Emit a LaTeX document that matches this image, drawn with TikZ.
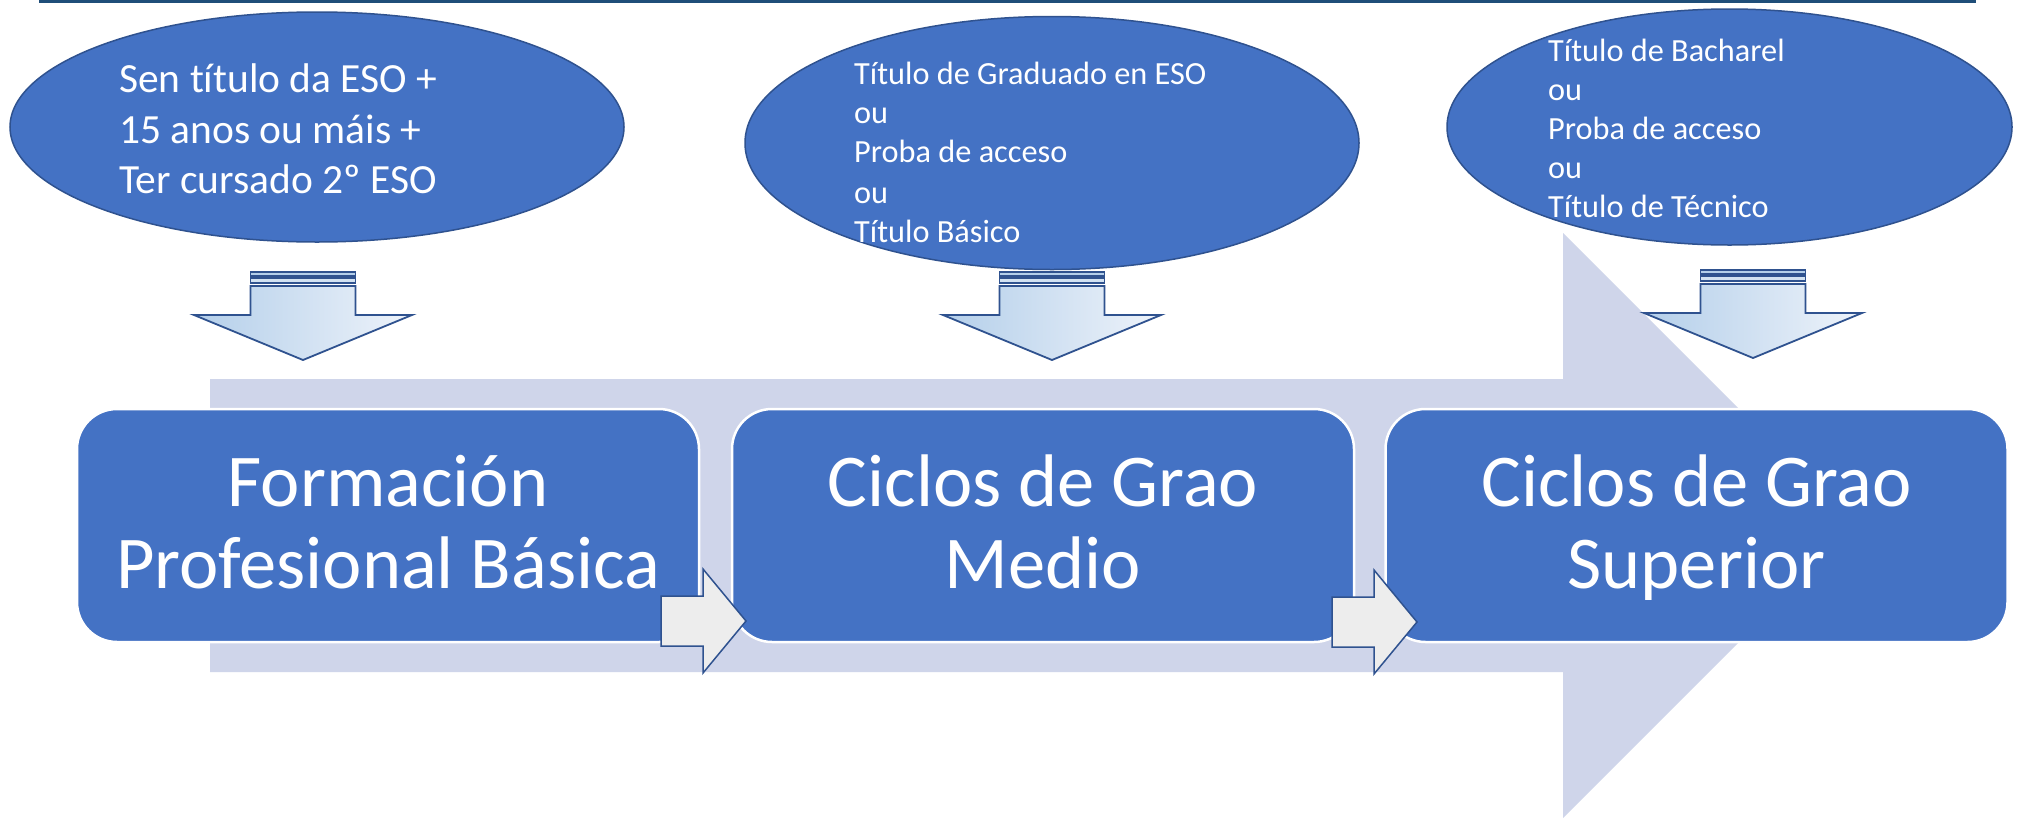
\documentclass[tikz,border=0pt]{standalone}
\usepackage{fontspec}
\setmainfont{Carlito}[Ligatures=NoCommon]
\usetikzlibrary{shapes.geometric}
\definecolor{accent}{HTML}{4472C4}
\definecolor{edge}{HTML}{2F528F}
\definecolor{band}{HTML}{CFD5EA}
\definecolor{topline}{HTML}{1F4E79}
\definecolor{grayfill}{HTML}{EDEDED}
\definecolor{gradL}{HTML}{B4CFEA}
\definecolor{gradR}{HTML}{EEF3FA}
\tikzset{
  stage/.style={draw=white, line width=2.5pt, fill=accent, rounded corners=40pt,
    minimum width=622pt, minimum height=233pt, inner sep=0pt},
  bubble/.style={ellipse, draw=edge, line width=1.5pt, fill=accent, inner sep=0pt},
  bigtext/.style={text=white, font=\fontsize{74.5}{82}\selectfont, inner sep=0pt, anchor=base},
  midtext/.style={text=white, font=\fontsize{41.5}{50}\selectfont, inner sep=0pt, anchor=base west},
  smalltext/.style={text=white, font=\fontsize{32.3}{39}\selectfont, inner sep=0pt, anchor=base west},
  downarr/.pic={
    \path[fill=gradL, draw=edge, line width=1.6pt] (-52.5,-88) rectangle (52.5,-84);
    \path[fill=gradL!60!white, draw=edge, line width=1.6pt] (-52.5,-82) rectangle (52.5,-77);
    \path[left color=gradL, right color=gradR, draw=edge, line width=1.8pt, line join=miter]
      (-52.5,-74) -- (-52.5,-45) -- (-109,-45) -- (0,0) -- (109,-45) -- (52.5,-45) -- (52.5,-74) -- cycle;
  },
  nextarr/.pic={
    \path[fill=grayfill, draw=edge, line width=1.5pt, line join=miter]
      (-85,-25) -- (-43,-25) -- (-43,-52) -- (0,0) -- (-43,52) -- (-43,25) -- (-85,25) -- cycle;
  }
}
\begin{document}
\begin{tikzpicture}[x=1pt,y=-1pt]
\useasboundingbox[fill=white] (0,0) rectangle (2018,817);
% top rule
\coordinate (tl) at (39,1.5);
\coordinate (tr) at (1976,1.5);
\draw[topline, line width=3pt] (tl) -- (tr);
% background band arrow
\fill[band] (210,379) -- (1563,379) -- (1563,233) -- (1855.5,525.5) -- (1563,818) -- (1563,672) -- (210,672) -- cycle;
% stages
\node[stage] (b1) at (388,525.5) {};
\node[stage] (b2) at (1043,525.5) {};
\node[stage] (b3) at (1696.5,525.5) {};
\node[bigtext] (b1a) at (388,506) {Formación};
\node[bigtext] (b1b) at (388,588) {Profesional Básica};
\node[bigtext] (b2a) at (1043,506) {Ciclos de Grao};
\node[bigtext] (b2b) at (1043,588) {Medio};
\node[bigtext] (b3a) at (1696.5,506) {Ciclos de Grao};
\node[bigtext] (b3b) at (1696.5,588) {Superior};
% small arrows between stages
\pic (n1) at (746,621) {nextarr};
\pic (n2) at (1417,622) {nextarr};
% requirement bubbles
\node[bubble, minimum width=614pt, minimum height=230pt] (e1) at (317,127) {};
\node[bubble, minimum width=614pt, minimum height=253pt] (e2) at (1052,143) {};
\node[bubble, minimum width=565pt, minimum height=236pt] (e3) at (1729.5,127) {};
\node[midtext] (e1a) at (119,92) {Sen título da ESO +};
\node[midtext] (e1b) at (119,143) {15 anos ou máis +};
\node[midtext] (e1c) at (119,193) {Ter cursado 2º ESO};
\node[smalltext] (e2a) at (854,84) {Título de Graduado en ESO};
\node[smalltext] (e2b) at (854,123) {ou};
\node[smalltext] (e2c) at (854,162) {Proba de acceso};
\node[smalltext] (e2d) at (854,203) {ou};
\node[smalltext] (e2e) at (854,242) {Título Básico};
\node[smalltext] (e3a) at (1548,61) {Título de Bacharel};
\node[smalltext] (e3b) at (1548,100) {ou};
\node[smalltext] (e3c) at (1548,139) {Proba de acceso};
\node[smalltext] (e3d) at (1548,178) {ou};
\node[smalltext] (e3e) at (1548,217) {Título de Técnico};
% down arrows
\pic (d1) at (303,360) {downarr};
\pic (d2) at (1052,360) {downarr};
\pic (d3) at (1753,358) {downarr};
\end{tikzpicture}
\end{document}
